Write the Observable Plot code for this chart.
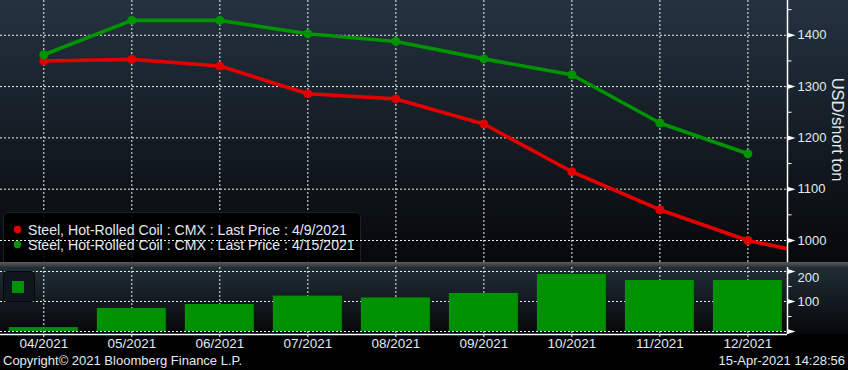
<!DOCTYPE html>
<html><head><meta charset="utf-8">
<script src="https://cdn.jsdelivr.net/npm/d3@7"></script>
<script src="https://cdn.jsdelivr.net/npm/@observablehq/plot@0.6"></script>
<style>
html,body{margin:0;padding:0;background:#000;}
#wrap{position:relative;width:848px;height:370px;overflow:hidden;background:#000;font-family:"Liberation Sans",Arial,sans-serif;}
#bgTop{position:absolute;left:0;top:0;width:848px;height:262px;background:linear-gradient(#243240,#06080a);}
#sep{position:absolute;left:0;top:262px;width:848px;height:5px;background:linear-gradient(#5a5e62,#2e3236);}
#bgBot{position:absolute;left:0;top:267px;width:848px;height:67px;background:linear-gradient(#212d37,#050709);}
#topChart{position:absolute;left:0;top:0;}
#botChart{position:absolute;left:0;top:267px;}
.foot{position:absolute;top:353px;font-size:13px;color:#e2eaf3;line-height:16px;white-space:nowrap;}
</style></head>
<body>
<div id="wrap">
  <div id="bgTop"></div><div id="sep"></div><div id="bgBot"></div>
  <div id="topChart"></div><div id="botChart"></div>
  <div class="foot" id="copy" style="left:3px;"></div>
  <div class="foot" id="stamp" style="right:3px;"></div>
</div>
<script>
// ---- data ----
const months = ["04/2021","05/2021","06/2021","07/2021","08/2021","09/2021","10/2021","11/2021","12/2021","01/2022"];
const seriesNames = ["Steel, Hot-Rolled Coil : CMX : Last Price : 4/9/2021",
                     "Steel, Hot-Rolled Coil : CMX : Last Price : 4/15/2021"];
const priceApr9  = [1350, 1353, 1340, 1286, 1276, 1227, 1134, 1060, 1000, 964];
const priceApr15 = [1362, 1429, 1429, 1403, 1388, 1354, 1323, 1229, 1169];
const spreadBars = [13, 77, 90, 118, 112, 127, 190, 170, 170];
const priceTicks = [1000, 1100, 1200, 1300, 1400];
const priceMinor = [1050, 1150, 1250, 1350, 1450];
const spreadTicks = [0, 100, 200];
const spreadMinor = [50, 150];
const axisTitle = "USD/short ton";
const copyright = "Copyright\u00A9 2021 Bloomberg Finance L.P.";
const stamp = "15-Apr-2021 14:28:56";

// ---- styling ----
const RED = "#e30000", GREEN = "#009400", BAR = "#009100";
const TXT = "#e2eaf3";
const FONT = "Liberation Sans, Arial, sans-serif";
const xDomain = [-0.492, 8.45];
const monthIdx = d3.range(9);

const redData = priceApr9.map((v, i) => ({i, v}));
const greenData = priceApr15.map((v, i) => ({i, v}));
const spreadData = spreadBars.map((v, i) => ({i, v}));

const arrowSym = {draw(ctx) { ctx.moveTo(0, -2.5); ctx.lineTo(8, 0); ctx.lineTo(0, 2.5); ctx.closePath(); }};
const minorSym = {draw(ctx) { ctx.moveTo(0, 0); ctx.lineTo(4, 0); }};
const dash = {stroke: "white", strokeDasharray: "2,2", strokeWidth: 1, strokeOpacity: 0.95};

function legendTop() {
  const g = d3.create("svg:g");
  g.append("rect").attr("x", 3.5).attr("y", 212.5).attr("width", 357).attr("height", 70)
    .attr("rx", 4).attr("fill", "#000").attr("fill-opacity", 0.9).attr("stroke", "#1c2126");
  [RED, GREEN].forEach((c, k) => {
    const y = 229.5 + k * 15;
    g.append("circle").attr("cx", 17.5).attr("cy", y).attr("r", 3.7).attr("fill", c);
    g.append("text").attr("x", 28).attr("y", y).attr("dy", "0.36em").attr("text-anchor", "start")
      .attr("fill", TXT).attr("font-size", 14.1).attr("font-family", FONT).text(seriesNames[k]);
  });
  return g.node();
}
function legendBot() {
  const g = d3.create("svg:g");
  g.append("rect").attr("x", 3.5).attr("y", 4.5).attr("width", 31).attr("height", 30)
    .attr("rx", 3).attr("fill", "#0f151a").attr("stroke", "#05080a");
  g.append("rect").attr("x", 12).attr("y", 14).attr("width", 12).attr("height", 12).attr("fill", BAR);
  return g.node();
}

const topPlot = Plot.plot({
  width: 848, height: 262,
  marginLeft: 0, marginRight: 61, marginTop: 0, marginBottom: 0,
  style: {background: "transparent", fontFamily: FONT, fontSize: "13px", color: TXT},
  x: {domain: xDomain, axis: null},
  y: {domain: [957.1, 1467.8], axis: null},
  marks: [
    Plot.ruleX(monthIdx, {x: d => d, ...dash}),
    legendTop,
    Plot.ruleY(priceTicks, {y: d => d, ...dash}),
    Plot.line(redData, {x: "i", y: "v", stroke: RED, strokeWidth: 3.6, clip: true}),
    Plot.dot(redData, {x: "i", y: "v", fill: RED, r: 4.5, clip: true}),
    Plot.line(greenData, {x: "i", y: "v", stroke: GREEN, strokeWidth: 3.6, clip: true}),
    Plot.dot(greenData, {x: "i", y: "v", fill: GREEN, r: 4.5, clip: true}),
    Plot.ruleX([xDomain[1]], {x: d => d, stroke: "white", strokeWidth: 1.5}),
    Plot.dot(priceTicks, {y: d => d, frameAnchor: "right", symbol: arrowSym, fill: "white", stroke: "none"}),
    Plot.dot(priceMinor, {y: d => d, frameAnchor: "right", symbol: minorSym, fill: "none", stroke: "white", strokeWidth: 1}),
    Plot.text(priceTicks, {y: d => d, text: d => String(d), frameAnchor: "right", dx: 10, textAnchor: "start", fill: TXT, fontSize: 13}),
    Plot.text([axisTitle], {text: d => d, frameAnchor: "right", rotate: 90, dx: 50, dy: -2, textAnchor: "middle", fill: TXT, fontSize: 16.5})
  ]
});
document.getElementById("topChart").appendChild(topPlot);

const botPlot = Plot.plot({
  width: 848, height: 85,
  marginLeft: 0, marginRight: 61, marginTop: 0, marginBottom: 18,
  style: {background: "transparent", fontFamily: FONT, fontSize: "13px", color: TXT},
  x: {domain: xDomain, axis: null},
  y: {domain: [-10, 213.3], axis: null},
  marks: [
    Plot.ruleX(monthIdx, {x: d => d, ...dash}),
    Plot.ruleY(spreadTicks, {y: d => d, ...dash}),
    legendBot,
    Plot.rectY(spreadData, {x1: d => d.i - 0.392, x2: d => d.i + 0.392, y1: 0, y2: "v", fill: BAR}),
    Plot.ruleY([-10], {y: d => d, stroke: "white", strokeWidth: 1.5}),
    Plot.ruleX([xDomain[1]], {x: d => d, stroke: "white", strokeWidth: 1.5}),
    Plot.dot(spreadTicks, {y: d => d, frameAnchor: "right", symbol: arrowSym, fill: "white", stroke: "none"}),
    Plot.dot(spreadMinor, {y: d => d, frameAnchor: "right", symbol: minorSym, fill: "none", stroke: "white", strokeWidth: 1}),
    Plot.text(spreadTicks.filter(d => d === 100), {y: d => d, text: d => String(d), frameAnchor: "right", dx: 10, textAnchor: "start", fill: TXT, fontSize: 13}),
    Plot.text(spreadTicks.filter(d => d === 200), {y: d => d, text: d => String(d), frameAnchor: "right", dx: 10, dy: 6, textAnchor: "start", fill: TXT, fontSize: 13}),
    Plot.axisX(monthIdx, {anchor: "bottom", tickFormat: i => months[i], tickSize: 3, tickPadding: 1, stroke: "white", fill: TXT, fontSize: 13.5})
  ]
});
document.getElementById("botChart").appendChild(botPlot);

document.getElementById("copy").textContent = copyright;
document.getElementById("stamp").textContent = stamp;
</script>
</body></html>
